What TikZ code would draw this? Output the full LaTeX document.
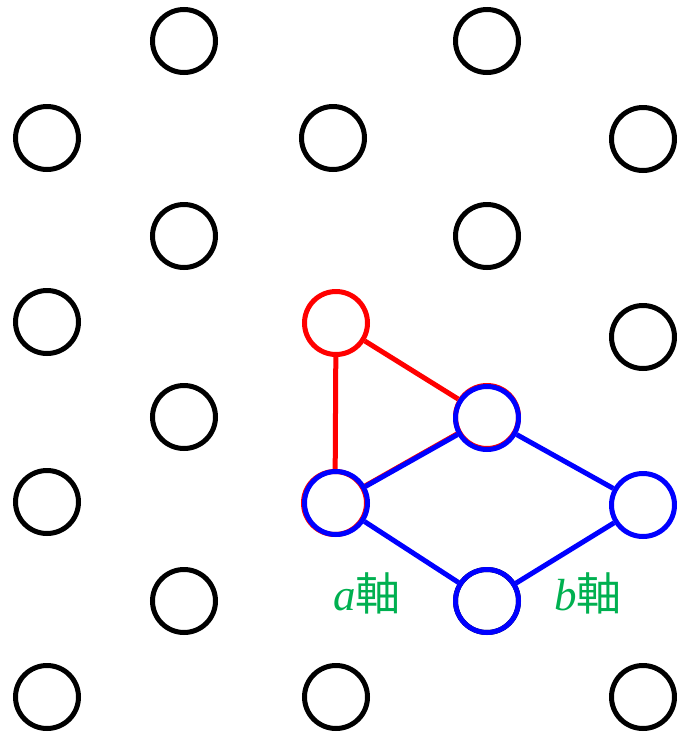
\documentclass[tikz,border=0pt]{standalone}
\usepackage{fontspec}
\setmainfont{Liberation Serif}
\newfontfamily\cjk{Noto Sans CJK JP}
\definecolor{lblgreen}{HTML}{00B050}
\begin{document}
\begin{tikzpicture}[x=1pt,y=-1pt,
  site/.style={circle,draw=black,line width=5pt,minimum size=63pt,inner sep=0pt},
  redsite/.style={site,draw=red},
  bluesite/.style={site,draw=blue},
  redline/.style={draw=red,line width=5pt},
  blueline/.style={draw=blue,line width=5pt},
  axislabel/.style={text=lblgreen,font=\fontsize{45}{49}\selectfont,inner sep=0pt}]
\useasboundingbox (0,0) rectangle (677,737);
% black lattice
\node[site] (c1) at (184,41) {};
\node[site] (c2) at (487,41) {};
\node[site] (c3) at (47,138) {};
\node[site] (c4) at (333,138) {};
\node[site] (c5) at (643,139) {};
\node[site] (c6) at (184,236) {};
\node[site] (c7) at (487,236) {};
\node[site] (c8) at (47,322) {};
\node[site] (c9) at (643,337) {};
\node[site] (c10) at (184,417) {};
\node[site] (c11) at (47,502) {};
\node[site] (c12) at (184,601) {};
\node[site] (bB) at (487,601) {};
\node[site] (c13) at (47,697) {};
\node[site] (c14) at (336,697) {};
\node[site] (c15) at (643,697) {};
% red triangle
\node[redsite] (rT) at (336,323) {};
\node[redsite] (rR) at (487,417) {};
\node[redsite] (rL) at (335,503) {};
\draw[redline] (rT) -- (rR);
\draw[redline] (rT) -- (rL);
\draw[redline] (rL) -- (rR);
% blue rhombus
\node[bluesite] (bL) at (336,503) {};
\node[bluesite] (bT) at (487,418) {};
\node[bluesite] (bR) at (643,505) {};
\node[bluesite] (bD) at (487,601) {};
\draw[blueline] (bL) -- (bT);
\draw[blueline] (bT) -- (bR);
\draw[blueline] (bR) -- (bD);
\draw[blueline] (bD) -- (bL);
% labels
\node[axislabel] (la) at (367,593) {\textit{a}{\cjk 軸}};
\node[axislabel] (lb) at (588,593) {\textit{b}{\cjk 軸}};
\end{tikzpicture}
\end{document}
